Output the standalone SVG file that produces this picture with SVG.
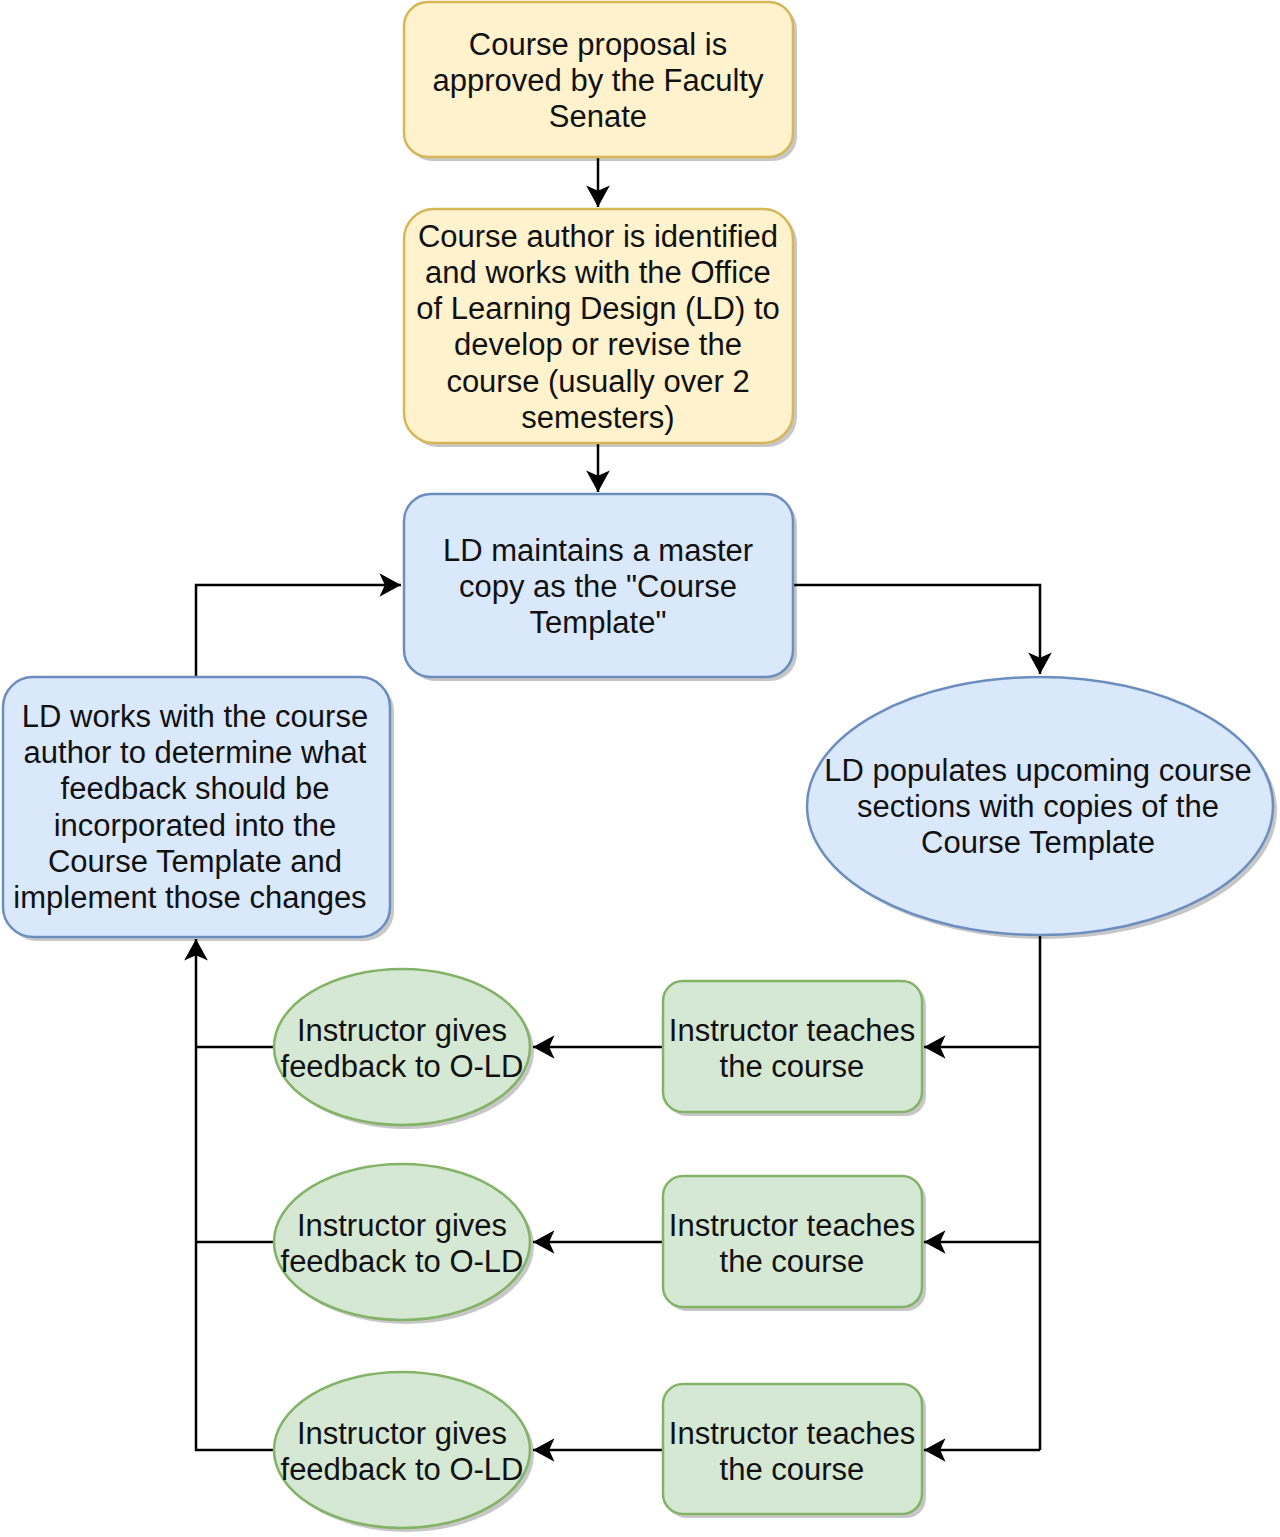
<svg xmlns="http://www.w3.org/2000/svg" width="1280" height="1537" viewBox="0 0 1280 1537">
<style>
text{font-family:"Liberation Sans",Arial,Helvetica,sans-serif;font-size:31px;fill:#111;text-anchor:middle}
.y{fill:#fff2cc;stroke:#d6b656;stroke-width:2.5}
.b{fill:#dae8fc;stroke:#6c8ebf;stroke-width:2.5}
.g{fill:#d5e8d4;stroke:#82b366;stroke-width:2.5}
.sh{fill:#000;opacity:0.22;stroke:none}
.e{fill:none;stroke:#000;stroke-width:2.5}
</style>
<defs>
<marker id="arr" markerUnits="userSpaceOnUse" markerWidth="28" markerHeight="28" viewBox="-22 -13 24 26" refX="0" refY="0" orient="auto">
<path d="M0,0 L-20,-11 L-15,0 L-20,11 Z" fill="#000"/>
</marker>
</defs>
<g id="edges">
<path class="e" d="M598,157 L598,207" marker-end="url(#arr)"/>
<path class="e" d="M598,443 L598,492" marker-end="url(#arr)"/>
<path class="e" d="M196,677 L196,585 L401,585" marker-end="url(#arr)"/>
<path class="e" d="M793,585 L1040,585 L1040,674" marker-end="url(#arr)"/>
<path class="e" d="M1040,935 L1040,1450"/>
<path class="e" d="M1040,1047 L924,1047" marker-end="url(#arr)"/>
<path class="e" d="M1040,1242 L924,1242" marker-end="url(#arr)"/>
<path class="e" d="M1040,1450 L924,1450" marker-end="url(#arr)"/>
<path class="e" d="M663,1047 L533,1047" marker-end="url(#arr)"/>
<path class="e" d="M663,1242 L533,1242" marker-end="url(#arr)"/>
<path class="e" d="M663,1450 L533,1450" marker-end="url(#arr)"/>
<path class="e" d="M274,1047 L196,1047"/>
<path class="e" d="M274,1242 L196,1242"/>
<path class="e" d="M274,1450 L196,1450 L196,939" marker-end="url(#arr)"/>
</g>
<g id="n1">
<rect class="sh" x="408" y="6" width="389" height="155" rx="24"/>
<rect class="y" x="404" y="2" width="389" height="155" rx="24"/>
<text x="598" y="55">Course proposal is</text>
<text x="598" y="91">approved by the Faculty</text>
<text x="598" y="127">Senate</text>
</g>
<g id="n2">
<rect class="sh" x="408" y="213" width="389" height="234" rx="30"/>
<rect class="y" x="404" y="209" width="389" height="234" rx="30"/>
<text x="598" y="247">Course author is identified</text>
<text x="598" y="283">and works with the Office</text>
<text x="598" y="319">of Learning Design (LD) to</text>
<text x="598" y="355">develop or revise the</text>
<text x="598" y="392">course (usually over 2</text>
<text x="598" y="428">semesters)</text>
</g>
<g id="n3">
<rect class="sh" x="408" y="498" width="389" height="183" rx="27"/>
<rect class="b" x="404" y="494" width="389" height="183" rx="27"/>
<text x="598" y="561">LD maintains a master</text>
<text x="598" y="597">copy as the "Course</text>
<text x="598" y="633">Template"</text>
</g>
<g id="n4">
<rect class="sh" x="7" y="681" width="387" height="260" rx="30"/>
<rect class="b" x="3" y="677" width="387" height="260" rx="30"/>
<text x="195" y="727">LD works with the course</text>
<text x="195" y="763">author to determine what</text>
<text x="195" y="799">feedback should be</text>
<text x="195" y="836">incorporated into the</text>
<text x="195" y="872">Course Template and</text>
<text x="190" y="908">implement those changes</text>
</g>
<g id="n5">
<ellipse class="sh" cx="1044" cy="810" rx="233" ry="129"/>
<ellipse class="b" cx="1040" cy="806" rx="233" ry="129"/>
<text x="1038" y="781">LD populates upcoming course</text>
<text x="1038" y="817">sections with copies of the</text>
<text x="1038" y="853">Course Template</text>
</g>
<g id="t1">
<rect class="sh" x="667" y="985" width="259" height="131" rx="20"/>
<rect class="g" x="663" y="981" width="259" height="131" rx="20"/>
<text x="792" y="1041">Instructor teaches</text>
<text x="792" y="1077">the course</text>
</g>
<g id="t2">
<rect class="sh" x="667" y="1180" width="259" height="131" rx="20"/>
<rect class="g" x="663" y="1176" width="259" height="131" rx="20"/>
<text x="792" y="1236">Instructor teaches</text>
<text x="792" y="1272">the course</text>
</g>
<g id="t3">
<rect class="sh" x="667" y="1388" width="259" height="130" rx="20"/>
<rect class="g" x="663" y="1384" width="259" height="130" rx="20"/>
<text x="792" y="1444">Instructor teaches</text>
<text x="792" y="1480">the course</text>
</g>
<g id="f1">
<ellipse class="sh" cx="406" cy="1051" rx="128" ry="78"/>
<ellipse class="g" cx="402" cy="1047" rx="128" ry="78"/>
<text x="402" y="1041">Instructor gives</text>
<text x="402" y="1077">feedback to O-LD</text>
</g>
<g id="f2">
<ellipse class="sh" cx="406" cy="1246" rx="128" ry="78"/>
<ellipse class="g" cx="402" cy="1242" rx="128" ry="78"/>
<text x="402" y="1236">Instructor gives</text>
<text x="402" y="1272">feedback to O-LD</text>
</g>
<g id="f3">
<ellipse class="sh" cx="406" cy="1454" rx="128" ry="78"/>
<ellipse class="g" cx="402" cy="1450" rx="128" ry="78"/>
<text x="402" y="1444">Instructor gives</text>
<text x="402" y="1480">feedback to O-LD</text>
</g>
</svg>
